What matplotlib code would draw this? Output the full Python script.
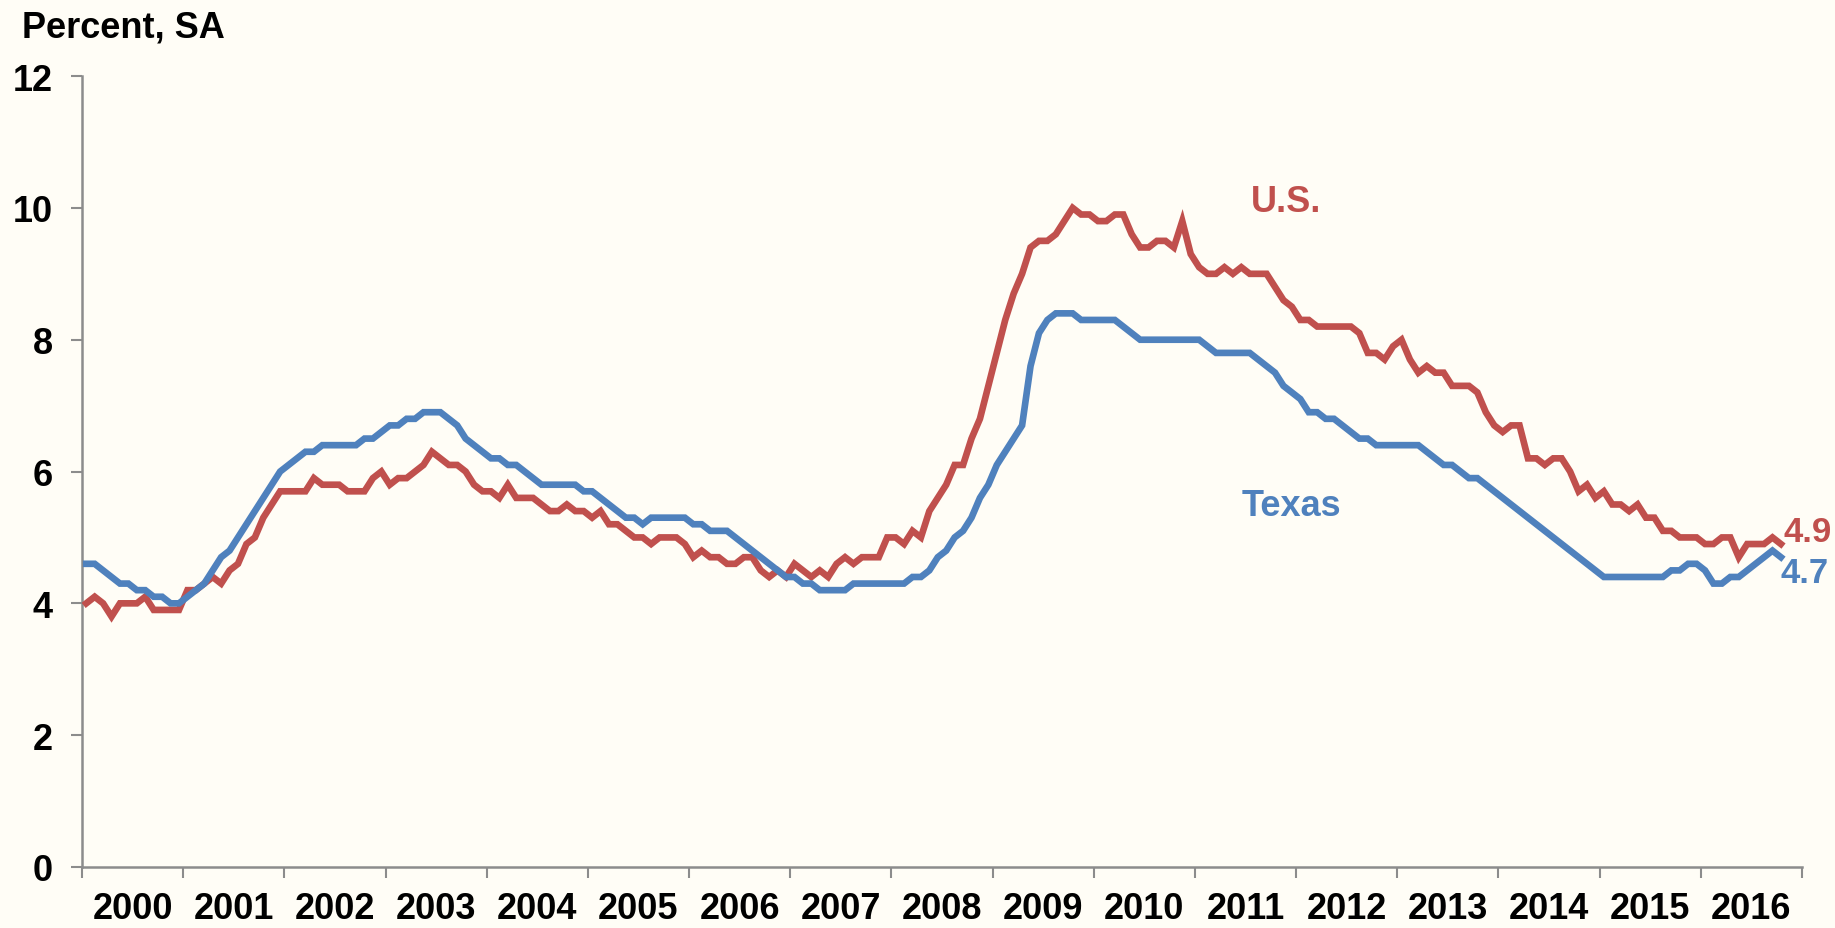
#!/usr/bin/env python3

"""Unemployment rate, Texas vs. U.S., monthly 2000-2016 (percent, SA)."""

import numpy as np
import matplotlib
matplotlib.use("Agg")
import matplotlib.pyplot as plt
from matplotlib.ticker import FixedLocator, NullFormatter, FixedFormatter

# monthly values, Jan 2000 .. Oct 2016
us_rate = [
    4.0, 4.1, 4.0, 3.8, 4.0, 4.0, 4.0, 4.1, 3.9, 3.9, 3.9, 3.9,   # 2000
    4.2, 4.2, 4.3, 4.4, 4.3, 4.5, 4.6, 4.9, 5.0, 5.3, 5.5, 5.7,   # 2001
    5.7, 5.7, 5.7, 5.9, 5.8, 5.8, 5.8, 5.7, 5.7, 5.7, 5.9, 6.0,   # 2002
    5.8, 5.9, 5.9, 6.0, 6.1, 6.3, 6.2, 6.1, 6.1, 6.0, 5.8, 5.7,   # 2003
    5.7, 5.6, 5.8, 5.6, 5.6, 5.6, 5.5, 5.4, 5.4, 5.5, 5.4, 5.4,   # 2004
    5.3, 5.4, 5.2, 5.2, 5.1, 5.0, 5.0, 4.9, 5.0, 5.0, 5.0, 4.9,   # 2005
    4.7, 4.8, 4.7, 4.7, 4.6, 4.6, 4.7, 4.7, 4.5, 4.4, 4.5, 4.4,   # 2006
    4.6, 4.5, 4.4, 4.5, 4.4, 4.6, 4.7, 4.6, 4.7, 4.7, 4.7, 5.0,   # 2007
    5.0, 4.9, 5.1, 5.0, 5.4, 5.6, 5.8, 6.1, 6.1, 6.5, 6.8, 7.3,   # 2008
    7.8, 8.3, 8.7, 9.0, 9.4, 9.5, 9.5, 9.6, 9.8, 10.0, 9.9, 9.9,  # 2009
    9.8, 9.8, 9.9, 9.9, 9.6, 9.4, 9.4, 9.5, 9.5, 9.4, 9.8, 9.3,   # 2010
    9.1, 9.0, 9.0, 9.1, 9.0, 9.1, 9.0, 9.0, 9.0, 8.8, 8.6, 8.5,   # 2011
    8.3, 8.3, 8.2, 8.2, 8.2, 8.2, 8.2, 8.1, 7.8, 7.8, 7.7, 7.9,   # 2012
    8.0, 7.7, 7.5, 7.6, 7.5, 7.5, 7.3, 7.3, 7.3, 7.2, 6.9, 6.7,   # 2013
    6.6, 6.7, 6.7, 6.2, 6.2, 6.1, 6.2, 6.2, 6.0, 5.7, 5.8, 5.6,   # 2014
    5.7, 5.5, 5.5, 5.4, 5.5, 5.3, 5.3, 5.1, 5.1, 5.0, 5.0, 5.0,   # 2015
    4.9, 4.9, 5.0, 5.0, 4.7, 4.9, 4.9, 4.9, 5.0, 4.9,             # 2016
]

tx_rate = [
    4.6, 4.6, 4.5, 4.4, 4.3, 4.3, 4.2, 4.2, 4.1, 4.1, 4.0, 4.0,   # 2000
    4.1, 4.2, 4.3, 4.5, 4.7, 4.8, 5.0, 5.2, 5.4, 5.6, 5.8, 6.0,   # 2001
    6.1, 6.2, 6.3, 6.3, 6.4, 6.4, 6.4, 6.4, 6.4, 6.5, 6.5, 6.6,   # 2002
    6.7, 6.7, 6.8, 6.8, 6.9, 6.9, 6.9, 6.8, 6.7, 6.5, 6.4, 6.3,   # 2003
    6.2, 6.2, 6.1, 6.1, 6.0, 5.9, 5.8, 5.8, 5.8, 5.8, 5.8, 5.7,   # 2004
    5.7, 5.6, 5.5, 5.4, 5.3, 5.3, 5.2, 5.3, 5.3, 5.3, 5.3, 5.3,   # 2005
    5.2, 5.2, 5.1, 5.1, 5.1, 5.0, 4.9, 4.8, 4.7, 4.6, 4.5, 4.4,   # 2006
    4.4, 4.3, 4.3, 4.2, 4.2, 4.2, 4.2, 4.3, 4.3, 4.3, 4.3, 4.3,   # 2007
    4.3, 4.3, 4.4, 4.4, 4.5, 4.7, 4.8, 5.0, 5.1, 5.3, 5.6, 5.8,   # 2008
    6.1, 6.3, 6.5, 6.7, 7.6, 8.1, 8.3, 8.4, 8.4, 8.4, 8.3, 8.3,   # 2009
    8.3, 8.3, 8.3, 8.2, 8.1, 8.0, 8.0, 8.0, 8.0, 8.0, 8.0, 8.0,   # 2010
    8.0, 7.9, 7.8, 7.8, 7.8, 7.8, 7.8, 7.7, 7.6, 7.5, 7.3, 7.2,   # 2011
    7.1, 6.9, 6.9, 6.8, 6.8, 6.7, 6.6, 6.5, 6.5, 6.4, 6.4, 6.4,   # 2012
    6.4, 6.4, 6.4, 6.3, 6.2, 6.1, 6.1, 6.0, 5.9, 5.9, 5.8, 5.7,   # 2013
    5.6, 5.5, 5.4, 5.3, 5.2, 5.1, 5.0, 4.9, 4.8, 4.7, 4.6, 4.5,   # 2014
    4.4, 4.4, 4.4, 4.4, 4.4, 4.4, 4.4, 4.4, 4.5, 4.5, 4.6, 4.6,   # 2015
    4.5, 4.3, 4.3, 4.4, 4.4, 4.5, 4.6, 4.7, 4.8, 4.7,             # 2016
]

years = list(range(2000, 2017))
y_ticks = [0, 2, 4, 6, 8, 10, 12]

RED = "#C0504D"
BLUE = "#4F81BD"
BG = "#FFFDF6"
AXIS = "#8C8C8C"
FONT = "Liberation Sans"
FS = 26


def main():
    plt.rcParams["font.family"] = [FONT, "DejaVu Sans"]
    plt.rcParams["font.weight"] = "bold"

    fig = plt.figure(figsize=(18.35, 9.29), dpi=100, facecolor=BG)
    ax = fig.add_axes([0.0447, 0.0657, 0.9373, 0.8513], facecolor=BG)

    # months on the x axis, each point centred in its month
    x = np.arange(len(us_rate)) + 0.5
    ax.plot(x, us_rate, color=RED, lw=4.8, solid_joinstyle="miter", zorder=3)
    ax.plot(x, tx_rate, color=BLUE, lw=4.8, solid_joinstyle="miter", zorder=4)

    n_months = 12 * len(years)
    ax.set_xlim(0, n_months)
    ax.set_ylim(0, 12)

    # year boundaries get the tick marks, labels sit between them
    ax.xaxis.set_major_locator(FixedLocator(np.arange(0, n_months + 1, 12)))
    ax.xaxis.set_major_formatter(NullFormatter())
    ax.xaxis.set_minor_locator(FixedLocator(np.arange(6, n_months, 12)))
    ax.xaxis.set_minor_formatter(FixedFormatter([str(y) for y in years]))
    ax.tick_params(axis="x", which="major", direction="out", length=8,
                   width=1.5, color=AXIS)
    ax.tick_params(axis="x", which="minor", length=0, pad=17,
                   labelsize=FS)

    ax.set_yticks(y_ticks)
    ax.set_yticklabels([str(v) for v in y_ticks])
    ax.tick_params(axis="y", direction="out", length=8, width=1.5,
                   color=AXIS, pad=13, labelsize=FS)

    for lab in ax.get_xticklabels(minor=True) + ax.get_yticklabels():
        lab.set_fontweight("bold")

    for side in ("top", "right"):
        ax.spines[side].set_visible(False)
    for side in ("left", "bottom"):
        ax.spines[side].set_color(AXIS)
        ax.spines[side].set_linewidth(1.8)

    # series names
    ax.text(142.8, 10.1, "U.S.", color=RED, fontsize=FS, fontweight="bold",
            ha="center", va="center")
    ax.text(143.5, 5.48, "Texas", color=BLUE, fontsize=FS, fontweight="bold",
            ha="center", va="center")

    # latest values
    ax.annotate(f"{us_rate[-1]:.1f}", xy=(x[-1], us_rate[-1]),
                xytext=(2, 9), textcoords="offset points", color=RED,
                fontsize=FS - 1, fontweight="bold", ha="left", va="center",
                annotation_clip=False)
    ax.annotate(f"{tx_rate[-1]:.1f}", xy=(x[-1], tx_rate[-1]),
                xytext=(0, -11), textcoords="offset points", color=BLUE,
                fontsize=FS - 1, fontweight="bold", ha="left", va="center",
                annotation_clip=False)

    fig.text(0.012, 0.970, "Percent, SA", fontsize=FS, fontweight="bold",
             ha="left", va="center")

    fig.savefig("out.png", dpi=100, facecolor=BG)


if __name__ == "__main__":
    main()
